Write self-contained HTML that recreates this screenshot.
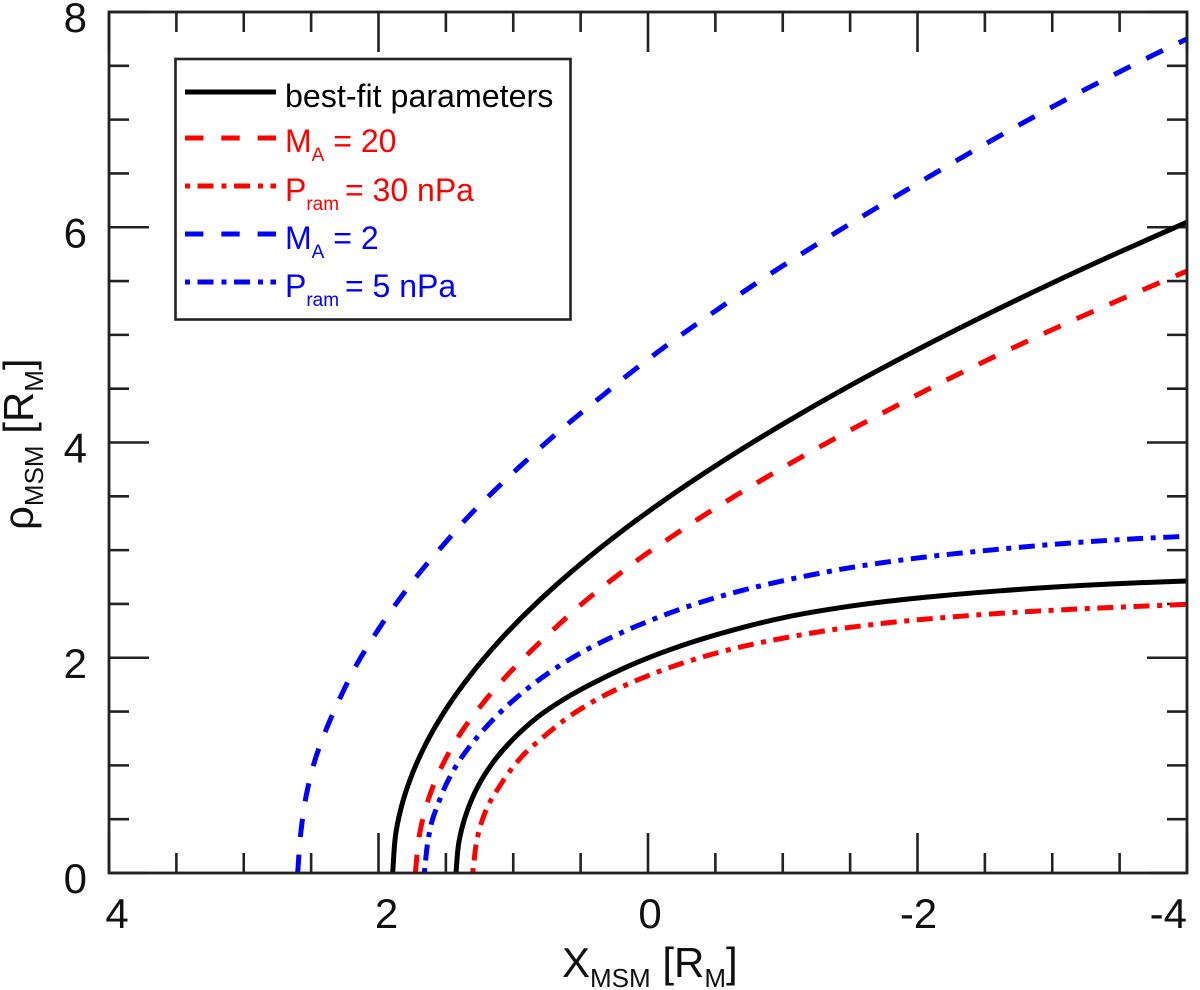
<!DOCTYPE html>
<html lang="en">
<head>
<meta charset="utf-8">
<title>Bow shock and magnetopause model curves</title>
<style>
html,body{margin:0;padding:0;background:#fff;}
svg{display:block;font-family:"Liberation Sans",Arial,sans-serif;}
</style>
</head>
<body>
<svg id="chart" width="1200" height="990" viewBox="0 0 1200 990" xmlns="http://www.w3.org/2000/svg">
  <rect x="0" y="0" width="1200" height="990" fill="#fff"/>
  <g id="ticks"></g>
  <g id="curves"></g>
  <rect x="109" y="12" width="1078" height="861" fill="none" stroke="#222" stroke-width="2.8"/>
  <g id="tick-labels" font-size="42" fill="#111"></g>

  <text x="562" y="977" font-size="42" fill="#111">X<tspan font-size="26" dy="10">MSM</tspan><tspan dy="-10"> [R</tspan><tspan font-size="26" dy="10">M</tspan><tspan dy="-10">]</tspan></text>
  <text transform="translate(33,530) rotate(-90)" font-size="42" fill="#111">ρ<tspan font-size="26" dy="10">MSM</tspan><tspan dy="-10"> [R</tspan><tspan font-size="26" dy="10">M</tspan><tspan dy="-10">]</tspan></text>

  <g>
    <rect x="175.5" y="59" width="395" height="260.5" fill="#fff" stroke="#222" stroke-width="2.6"/>
    <g>
      <line x1="185" x2="276" y1="92" y2="92" stroke="#000" stroke-width="5"/>
      <text x="285" y="107" font-size="32.2" fill="#000">best-fit parameters</text>
    </g>
    <g>
      <line x1="185" x2="276" y1="138" y2="138" stroke="#f00" stroke-width="5" stroke-dasharray="18.4 17.9"/>
      <text x="285" y="152" font-size="32" fill="#f00">M<tspan font-size="19" dy="9">A</tspan><tspan dy="-9"> = 20</tspan></text>
    </g>
    <g>
      <line x1="185" x2="276" y1="186" y2="186" stroke="#f00" stroke-width="5" stroke-dasharray="5 7.5 16 8"/>
      <text x="285" y="201" font-size="32" fill="#f00">P<tspan font-size="19" dy="9">ram</tspan><tspan dy="-9" dx="-3"> = 30 nPa</tspan></text>
    </g>
    <g>
      <line x1="185" x2="276" y1="234" y2="234" stroke="#00f" stroke-width="5" stroke-dasharray="18.4 17.9"/>
      <text x="285" y="249" font-size="32" fill="#00f">M<tspan font-size="19" dy="9">A</tspan><tspan dy="-9"> = 2</tspan></text>
    </g>
    <g>
      <line x1="185" x2="276" y1="282" y2="282" stroke="#00f" stroke-width="5" stroke-dasharray="5 7.5 16 8"/>
      <text x="285" y="297" font-size="32" fill="#00f">P<tspan font-size="19" dy="9">ram</tspan><tspan dy="-9" dx="-3"> = 5 nPa</tspan></text>
    </g>
  </g>
</svg>
<script>
// Axis ticks and labels
const xTickLabels = ["4", "2", "0", "-2", "-4"];
const yTickLabels = ["0", "2", "4", "6", "8"];
const xMinorTicks = [3.5, 3, 2.5, 1.5, 1, 0.5, -0.5, -1, -1.5, -2.5, -3, -3.5];
const yMinorTicks = [0.5, 1, 1.5, 2.5, 3, 3.5, 4.5, 5, 5.5, 6.5, 7, 7.5];

// Solid black: outer boundary, best-fit parameters
const bestOuterX = [1.895, 1.87, 1.82, 1.75, 1.65, 1.5, 1.3, 1.1, 0.8, 0.5, 0.2, -0.2, -0.6, -1, -1.5, -2, -2.5, -3, -3.5, -4];
const bestOuterRho = [0, 0.381, 0.661, 0.919, 1.196, 1.520, 1.867, 2.161, 2.540, 2.872, 3.171, 3.532, 3.863, 4.170, 4.529, 4.863, 5.180, 5.482, 5.770, 6.047];

// Solid black: inner boundary, best-fit parameters
const bestInnerX = [1.425, 1.403, 1.345, 1.259, 1.148, 1.000, 0.826, 0.579, 0.332, 0.084, -0.163, -0.683, -1.054, -1.425, -1.796, -2.167, -2.612, -3.228, -3.599, -4.0];
const bestInnerRho = [0, 0.290, 0.565, 0.812, 1.031, 1.245, 1.442, 1.648, 1.812, 1.955, 2.075, 2.275, 2.385, 2.465, 2.527, 2.575, 2.622, 2.672, 2.695, 2.713];

// Red dashed: MA = 20
const ma20X = [1.727, 1.692, 1.623, 1.519, 1.383, 1.222, 1.054, 0.871, 0.678, 0.468, 0.258, 0.047, -0.176, -0.399, -0.629, -0.856, -1.104, -1.326, -1.561, -1.796, -1.994, -2.525, -3.003, -3.490, -4.0];
const ma20Rho = [0, 0.384, 0.709, 1.019, 1.313, 1.582, 1.825, 2.060, 2.290, 2.525, 2.735, 2.935, 3.125, 3.310, 3.490, 3.660, 3.840, 3.995, 4.155, 4.310, 4.440, 4.770, 5.050, 5.320, 5.593];

// Red dash-dot: Pram = 30 nPa
const pram30X = [1.301, 1.267, 1.230, 1.178, 1.111, 1.037, 0.937, 0.752, 0.653, 0.430, 0.191, -0.057, -0.306, -0.566, -0.831, -1.091, -1.356, -1.623, -1.887, -2.154, -2.686, -3.226, -3.763, -4.0];
const pram30Rho = [0, 0.322, 0.492, 0.648, 0.787, 0.926, 1.081, 1.289, 1.391, 1.577, 1.731, 1.861, 1.970, 2.063, 2.140, 2.202, 2.258, 2.302, 2.339, 2.369, 2.419, 2.455, 2.484, 2.497];

// Blue dashed: MA = 2
const ma2X = [2.600, 2.577, 2.538, 2.471, 2.380, 2.269, 2.150, 2.039, 1.853, 1.692, 1.519, 1.338, 1.148, 0.957, 0.757, 0.554, 0.332, 0.134, -0.076, -0.510, -0.955, -1.412, -1.870, -2.332, -2.805, -3.275, -3.750, -4.0];
const ma2Rho = [0, 0.369, 0.709, 1.050, 1.359, 1.670, 1.963, 2.190, 2.530, 2.794, 3.048, 3.305, 3.543, 3.770, 3.998, 4.216, 4.441, 4.643, 4.844, 5.231, 5.605, 5.965, 6.310, 6.650, 6.985, 7.300, 7.600, 7.750];

// Blue dash-dot: Pram = 5 nPa
const pram5X = [1.660, 1.630, 1.601, 1.556, 1.506, 1.445, 1.371, 1.291, 1.111, 0.913, 0.695, 0.462, 0.228, -0.020, -0.406, -0.663, -0.918, -1.182, -1.445, -1.709, -1.981, -2.637, -3.176, -3.711, -4.0];
const pram5Rho = [0, 0.322, 0.490, 0.648, 0.802, 0.950, 1.096, 1.226, 1.475, 1.695, 1.895, 2.070, 2.215, 2.348, 2.521, 2.614, 2.692, 2.762, 2.825, 2.878, 2.924, 3.012, 3.070, 3.112, 3.128];

const SVG_NS = "http://www.w3.org/2000/svg";
const plotLeft = 109, plotRight = 1187, plotTop = 12, plotBottom = 873;
const xMax = 4, xMin = -4, yMin = 0, yMax = 8;
function xScale(v) { return plotLeft + (xMax - v) / (xMax - xMin) * (plotRight - plotLeft); }
function yScale(v) { return plotBottom - (v - yMin) / (yMax - yMin) * (plotBottom - plotTop); }

const tickGroup = document.getElementById("ticks");
function addTick(x1, y1, x2, y2) {
  const tick = document.createElementNS(SVG_NS, "line");
  tick.setAttribute("x1", x1);
  tick.setAttribute("y1", y1);
  tick.setAttribute("x2", x2);
  tick.setAttribute("y2", y2);
  tick.setAttribute("stroke", "#222");
  tick.setAttribute("stroke-width", "2.6");
  
  
  tickGroup.appendChild(tick);
}
function addXTick(v, len) {
  addTick(xScale(v), plotBottom, xScale(v), plotBottom - len);
  addTick(xScale(v), plotTop, xScale(v), plotTop + len);
}
function addYTick(v, len) {
  addTick(plotLeft, yScale(v), plotLeft + len, yScale(v));
  addTick(plotRight, yScale(v), plotRight - len, yScale(v));
}
xMinorTicks.forEach(function (v) { addXTick(v, 20); });
yMinorTicks.forEach(function (v) { addYTick(v, 20); });
xTickLabels.forEach(function (s) { addXTick(parseFloat(s), 40); });
yTickLabels.forEach(function (s) { addYTick(parseFloat(s), 40); });

const labelGroup = document.getElementById("tick-labels");
xTickLabels.forEach(function (s) {
  const v = parseFloat(s);
  const label = document.createElementNS(SVG_NS, "text");
  const nudge = v > 0 ? 8 : (v === 0 ? 2 : 1);
  if (v === xMin) {
    label.setAttribute("x", plotRight);
    label.setAttribute("text-anchor", "end");
  } else {
    label.setAttribute("x", xScale(v) + nudge);
    label.setAttribute("text-anchor", "middle");
  }
  label.setAttribute("y", 928);
  label.textContent = s;
  
  
  labelGroup.appendChild(label);
});
yTickLabels.forEach(function (s) {
  const v = parseFloat(s);
  const label = document.createElementNS(SVG_NS, "text");
  label.setAttribute("x", 87);
  label.setAttribute("y", yScale(v) + 20);
  label.setAttribute("text-anchor", "end");
  label.textContent = s;
  
  
  labelGroup.appendChild(label);
});

// Smooth cubic through the data points, with tangents weighted by chord length
function curvePath(xs, ys) {
  const p = xs.map(function (x, i) { return [xScale(x), yScale(ys[i])]; });
  const n = p.length;
  const h = [];
  for (let i = 0; i < n - 1; i++) {
    h.push(Math.hypot(p[i + 1][0] - p[i][0], p[i + 1][1] - p[i][1]));
  }
  const m = p.map(function (pt, i) {
    if (i === 0) return [(p[1][0] - pt[0]) / h[0], (p[1][1] - pt[1]) / h[0]];
    if (i === n - 1) return [(pt[0] - p[i - 1][0]) / h[i - 1], (pt[1] - p[i - 1][1]) / h[i - 1]];
    const a = h[i - 1], b = h[i];
    return [
      ((p[i + 1][0] - pt[0]) / b * a + (pt[0] - p[i - 1][0]) / a * b) / (a + b),
      ((p[i + 1][1] - pt[1]) / b * a + (pt[1] - p[i - 1][1]) / a * b) / (a + b)
    ];
  });
  let d = "M" + p[0][0].toFixed(2) + " " + p[0][1].toFixed(2);
  for (let i = 0; i < n - 1; i++) {
    const c1x = p[i][0] + m[i][0] * h[i] / 3, c1y = p[i][1] + m[i][1] * h[i] / 3;
    const c2x = p[i + 1][0] - m[i + 1][0] * h[i] / 3, c2y = p[i + 1][1] - m[i + 1][1] * h[i] / 3;
    d += "C" + c1x.toFixed(2) + " " + c1y.toFixed(2) + " " + c2x.toFixed(2) + " " + c2y.toFixed(2) + " " + p[i + 1][0].toFixed(2) + " " + p[i + 1][1].toFixed(2);
  }
  return d;
}

const curveGroup = document.getElementById("curves");
function addCurve(xs, ys, color, dash) {
  const path = document.createElementNS(SVG_NS, "path");
  path.setAttribute("d", curvePath(xs, ys));
  path.setAttribute("fill", "none");
  path.setAttribute("stroke", color);
  path.setAttribute("stroke-width", "5");
  if (dash) path.setAttribute("stroke-dasharray", dash);
  curveGroup.appendChild(path);
  return path;
}
const dashDot = "5 7.6 16 7.6";
const curveBestOuter = addCurve(bestOuterX, bestOuterRho, "#000", null);


const curveBestInner = addCurve(bestInnerX, bestInnerRho, "#000", null);


const curveMa20 = addCurve(ma20X, ma20Rho, "#f00", "18.4 17.57");


const curvePram30 = addCurve(pram30X, pram30Rho, "#f00", dashDot);


const curveMa2 = addCurve(ma2X, ma2Rho, "#00f", "18.4 17.67");


const curvePram5 = addCurve(pram5X, pram5Rho, "#00f", dashDot);


</script>
</body>
</html>
